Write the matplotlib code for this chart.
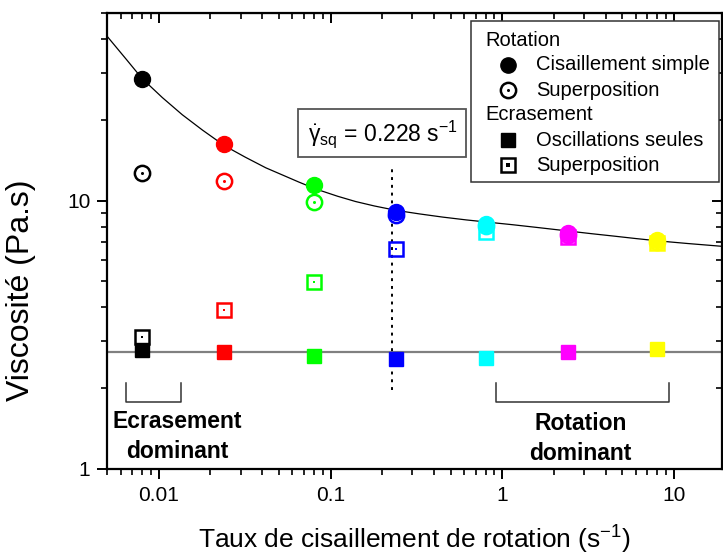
import numpy as np
import matplotlib
matplotlib.use("Agg")
import matplotlib.pyplot as plt
from matplotlib.lines import Line2D
from matplotlib.patches import Rectangle
from matplotlib.ticker import FuncFormatter, NullFormatter, LogLocator

plt.rcParams['font.family'] = ['Liberation Sans', 'DejaVu Sans']
plt.rcParams['mathtext.fontset'] = 'custom'
plt.rcParams['mathtext.rm'] = 'Liberation Sans'
plt.rcParams['mathtext.it'] = 'Liberation Sans:italic'
plt.rcParams['mathtext.bf'] = 'Liberation Sans:bold'

# taux de cisaillement de rotation (s-1)
taux = [0.008, 0.024, 0.08, 0.24, 0.8, 2.4, 8.0]
couleurs = ['#000000', '#ff0000', '#00ff00', '#0000ff', '#00ffff', '#ff00ff', '#ffff00']

# viscosités (Pa.s)
rot_simple = [28.4, 16.3, 11.4, 9.1, 8.2, 7.6, 7.15]
rot_superpos = [12.7, 11.8, 9.9, 8.85, 8.05, 7.47, 7.03]
ecr_seules = [2.78, 2.74, 2.64, 2.57, 2.59, 2.72, 2.80]
ecr_superpos = [3.11, 3.92, 4.97, 6.6, 7.65, 7.34, 6.96]

# courbe d'ajustement
fit_x = [0.005, 0.0065, 0.008, 0.0105, 0.0137, 0.018, 0.0242, 0.032, 0.042,
         0.055, 0.0655, 0.082, 0.11, 0.14, 0.18, 0.24, 0.33, 0.45, 0.62,
         0.84, 1.15, 1.6, 2.35, 3.3, 4.5, 6.0, 8.23, 12.0, 18.8]
fit_y = [41.0, 33.5, 28.5, 24.2, 20.9, 18.3, 16.0, 14.5, 13.25,
         12.3, 11.72, 11.05, 10.38, 9.92, 9.55, 9.2, 8.92, 8.68, 8.47,
         8.3, 8.13, 7.94, 7.72, 7.53, 7.37, 7.22, 7.07, 6.92, 6.76]

eta_oscill = 2.74      # ligne horizontale
gamma_sq = 0.228       # taux critique

W, H = 723, 555
fig = plt.figure(figsize=(W / 100, H / 100), dpi=100)
ax = fig.add_axes([107 / W, 1 - 469 / H, (722 - 107) / W, (469 - 13) / H])

def fx(px):
    return px / W

def fy(py):
    return 1 - py / H

ax.set_xscale('log')
ax.set_yscale('log')
ax.set_xlim(0.005, 19)
ax.set_ylim(1, 50)

# lignes
ax.plot(fit_x, fit_y, color='black', lw=0.9, zorder=2)
ax.axhline(eta_oscill, color='#808080', lw=1.6, zorder=1)
ax.plot([gamma_sq, gamma_sq], [1.97, 13.1], color='black', ls=(0, (1.5, 2.5)), lw=1.4, zorder=1)

# points
for i, c in enumerate(couleurs):
    ax.plot(taux[i], rot_simple[i], 'o', color=c, ms=11.5, mec=c, zorder=3)
    ax.plot(taux[i], rot_superpos[i], 'o', mfc='none', mec=c, ms=11, mew=1.8, zorder=4)
    ax.plot(taux[i], rot_superpos[i], 'o', color=c, ms=2.2, mew=0, zorder=4)
    ax.plot(taux[i], ecr_seules[i], 's', color=c, ms=10, mec=c, zorder=3)
    ax.plot(taux[i], ecr_superpos[i], 's', mfc='none', mec=c, ms=10, mew=1.8, zorder=4)
    ax.plot(taux[i], ecr_superpos[i], 's', color=c, ms=2.0, mew=0, zorder=4)

# crochets "dominant"
kw = dict(color='#333333', lw=1.1)
ax.plot([0.00643, 0.00643, 0.0134, 0.0134], [2.09, 1.778, 1.778, 2.09], **kw)
ax.plot([0.922, 0.922, 9.4, 9.4], [2.09, 1.778, 1.778, 2.09], **kw)
ax.text(0.0129, 1.325, 'Ecrasement\ndominant', ha='center', va='center',
        fontsize=16.5, fontweight='bold', linespacing=1.38)
ax.text(2.85, 1.295, 'Rotation\ndominant', ha='center', va='center',
        fontsize=16.5, fontweight='bold', linespacing=1.38)

# axes
for s in ax.spines.values():
    s.set_linewidth(1.6)
ax.xaxis.set_major_formatter(FuncFormatter(lambda v, p: '{:g}'.format(v)))
ax.yaxis.set_major_formatter(FuncFormatter(lambda v, p: '{:g}'.format(v)))
ax.xaxis.set_minor_formatter(NullFormatter())
ax.yaxis.set_minor_formatter(NullFormatter())
ax.yaxis.set_minor_locator(LogLocator(base=10, subs=np.arange(2, 10)))
ax.tick_params(which='major', direction='out', length=7, width=1.4, labelsize=15, pad=5)
ax.tick_params(which='minor', direction='out', length=4, width=1.2)

secx = ax.secondary_xaxis('top')
secx.tick_params(which='major', direction='in', length=7, width=1.4, labeltop=False)
secx.tick_params(which='minor', direction='in', length=4, width=1.2)
secx.xaxis.set_minor_formatter(NullFormatter())
secy = ax.secondary_yaxis('right')
secy.tick_params(which='major', direction='in', length=7, width=1.4, labelright=False)
secy.tick_params(which='minor', direction='in', length=4, width=1.2)
secy.yaxis.set_minor_formatter(NullFormatter())
secy.yaxis.set_minor_locator(LogLocator(base=10, subs=np.arange(2, 10)))

ax.set_xlabel('Taux de cisaillement de rotation (s$^{-1}$)', fontsize=19, labelpad=14)
ax.set_ylabel('Viscosité (Pa.s)', fontsize=23, va='center')
ax.yaxis.set_label_coords((21 - 107) / 615, (469 - 290) / 456)

# boîte gamma_sq
fig.add_artist(Rectangle((fx(298), fy(157)), fx(466) - fx(298), fy(109) - fy(157),
                         transform=fig.transFigure, fc='white', ec='#555555', lw=1.3, zorder=5))
fig.text(fx(383), fy(134), r'$\dot{\mathrm{\gamma}}_{\mathrm{sq}}$ = 0.228 s$^{-1}$',
         ha='center', va='center', fontsize=16.5, zorder=6)

# légende
fig.add_artist(Rectangle((fx(471), fy(182)), fx(719) - fx(471), fy(21) - fy(182),
                         transform=fig.transFigure, fc='white', ec='#333333', lw=1.1, zorder=5))
lx_head, lx_mark, lx_text = 485, 508, 536
rows = [('Rotation', None), ('Cisaillement simple', 'o_full'), ('Superposition', 'o_open'),
        ('Ecrasement', None), ('Oscillations seules', 's_full'), ('Superposition', 's_open')]
for k, (lab, m) in enumerate(rows):
    py = 40 + 25 * k
    if m is None:
        fig.text(fx(lx_head), fy(py), lab, ha='left', va='center', fontsize=14.5, zorder=6)
        continue
    fig.text(fx(lx_text), fy(py), lab, ha='left', va='center', fontsize=14.5, zorder=6)
    mk = m[0]
    ms = 11 if mk == 'o' else 10
    if m.endswith('full'):
        fig.add_artist(Line2D([fx(lx_mark)], [fy(py)], marker=mk, color='black', ms=ms,
                              ls='none', transform=fig.transFigure, zorder=6))
    else:
        fig.add_artist(Line2D([fx(lx_mark)], [fy(py)], marker=mk, mfc='none', mec='black',
                              ms=ms, mew=1.8, ls='none', transform=fig.transFigure, zorder=6))
        fig.add_artist(Line2D([fx(lx_mark)], [fy(py)], marker=mk, color='black', ms=2.2,
                              mew=0, ls='none', transform=fig.transFigure, zorder=6))

fig.savefig('out.png', dpi=100)
